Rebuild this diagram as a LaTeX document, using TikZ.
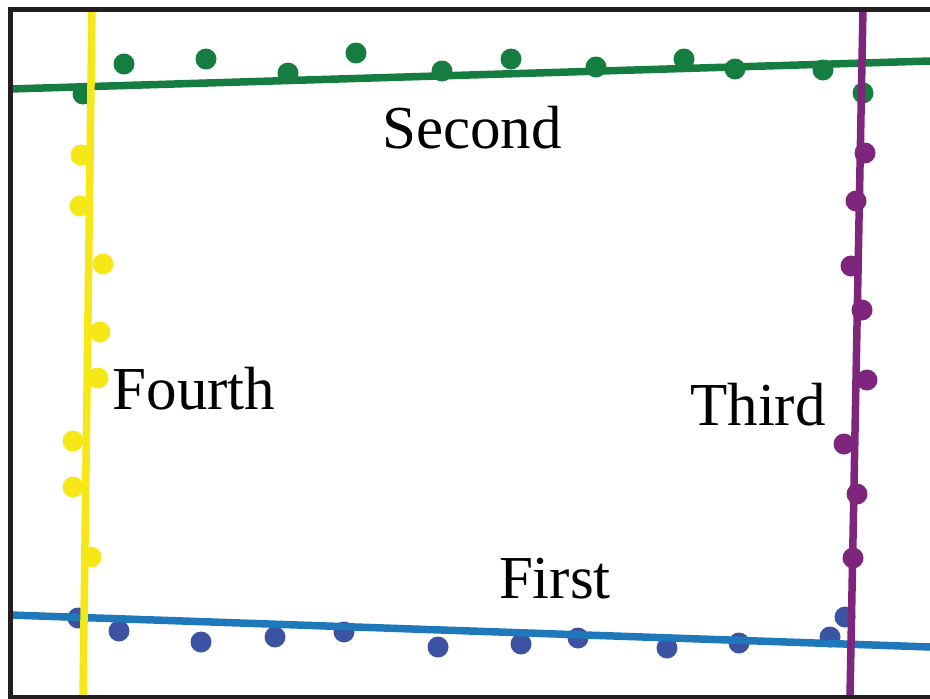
\documentclass[tikz,border=0pt]{standalone}
\usepackage{fontspec}
\setmainfont{Liberation Serif}
\definecolor{fitgreen}{RGB}{22,125,64}
\definecolor{fityellow}{RGB}{245,232,22}
\definecolor{fitpurple}{RGB}{126,38,124}
\definecolor{fitblue}{RGB}{30,120,185}
\definecolor{dotblue}{RGB}{60,82,162}
\definecolor{framegray}{RGB}{35,31,32}
\tikzset{
  fitline/.style={line width=7.5pt},
  sample/.style={radius=10.5pt},
  frameline/.style={line width=5pt, draw=framegray},
  caption/.style={font=\fontsize{61}{61}\selectfont, text=black, anchor=base, inner sep=0pt}
}
\begin{document}
\begin{tikzpicture}[x=1pt,y=-1pt]
\useasboundingbox (0,0) rectangle (930,699);
\fill[white] (0,0) rectangle (930,699);

% sampled edge points
\foreach \p in {(124,64),(206,59),(288,73),(356,53),(442,71),(511,59),(596,67),(684,59),(735,69),(823,70),(863,93),(83,94)}
  \fill[fitgreen,sample] \p circle;
\foreach \p in {(81,155),(80,206),(103,264),(100,332),(98,378),(73,441),(73,487),(91,557)}
  \fill[fityellow,sample] \p circle;
\foreach \p in {(865,153),(856,201),(851,266),(862,310),(867,380),(844,444),(857,494),(853,558)}
  \fill[fitpurple,sample] \p circle;
\foreach \p in {(78,618),(119,631),(201,642),(275,637),(344,632),(438,647),(521,644),(578,638),(667,648),(739,643),(830,637),(845,617)}
  \fill[dotblue,sample] \p circle;

% fitted lines
\coordinate (b1) at (10,615);  \coordinate (b2) at (930,647);
\coordinate (g1) at (10,89);   \coordinate (g2) at (930,61);
\coordinate (y1) at (92,8);    \coordinate (y2) at (83,697);
\coordinate (p1) at (863,8);   \coordinate (p2) at (850,697);
\draw[fitline,fitblue] (b1) -- (b2);
\draw[fitline,fitgreen] (g1) -- (g2);
\draw[fitline,fityellow] (y1) -- (y2);
\draw[fitline,fitpurple] (p1) -- (p2);

% frame
\coordinate (f1) at (930,9.5);
\coordinate (f2) at (10.5,9.5);
\coordinate (f3) at (10.5,697);
\coordinate (f4) at (930,697);
\draw[frameline] (f1) -- (f2) -- (f3) -- (f4);

% labels
\node[caption] (second) at (472,148) {Second};
\node[caption] (fourth) at (194,409) {Fourth};
\node[caption] (third) at (758,425) {Third};
\node[caption] (first) at (555,598) {First};
\end{tikzpicture}
\end{document}
